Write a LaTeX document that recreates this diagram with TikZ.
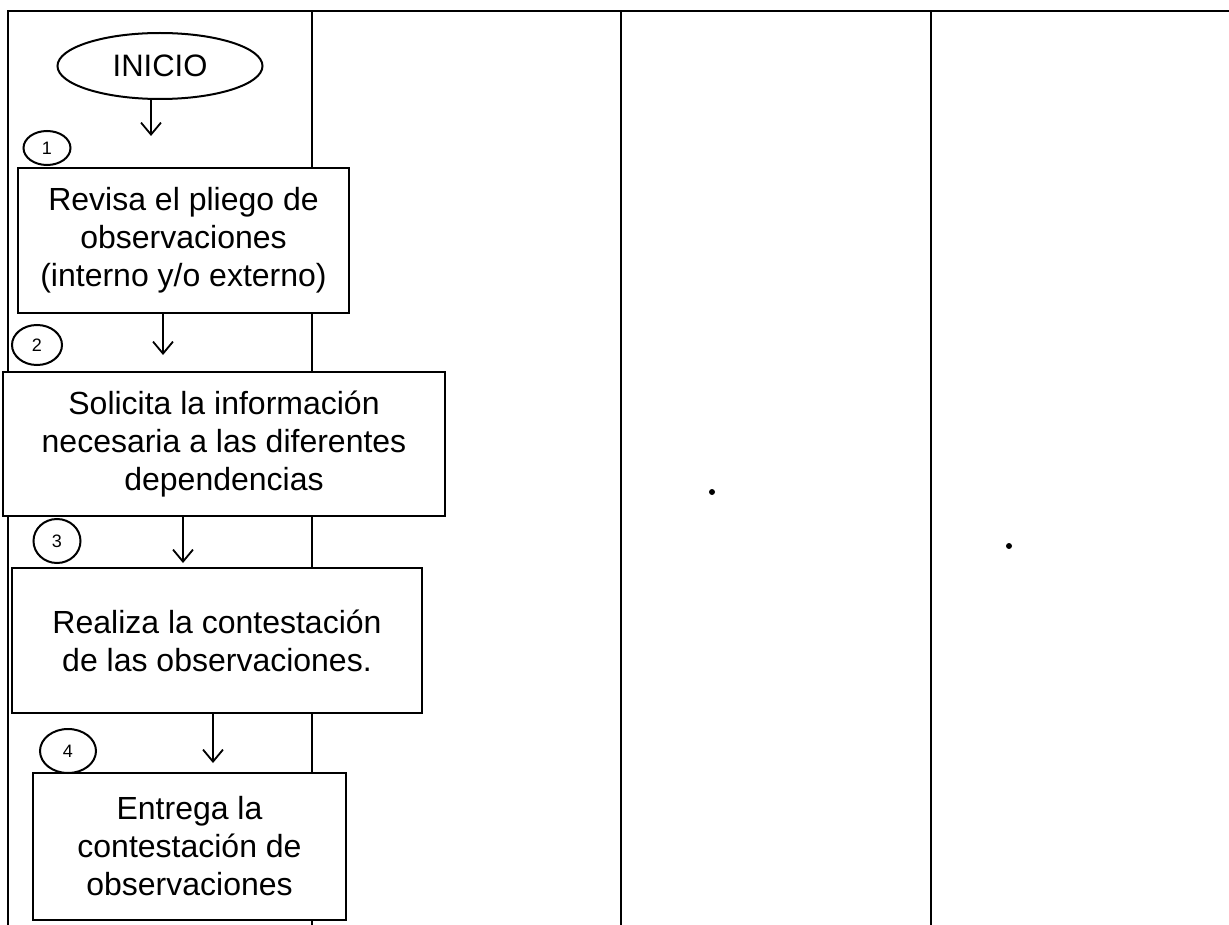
\documentclass[tikz,border=0pt]{standalone}
\usepackage{fontspec}
\setmainfont{Liberation Sans}
\usetikzlibrary{arrows.meta,shapes.geometric}

\begin{document}
\begin{tikzpicture}[x=1pt, y=-1pt,
  lane/.style={line width=1.6pt},
  stepbox/.style={draw, line width=2.6pt, fill=white, align=center, inner sep=0pt,
    font=\fontsize{32}{38}\selectfont},
  term/.style={draw, ellipse, line width=2pt, fill=white, inner sep=0pt,
    minimum width=205pt, minimum height=66pt, font=\fontsize{31}{36}\selectfont},
  num/.style={draw, ellipse, line width=2pt, fill=white, inner sep=0pt,
    font=\fontsize{18}{20}\selectfont},
  arr/.style={-{Straight Barb[length=12pt, width=20pt]}, line width=1.8pt},
  speck/.style={circle, fill=black, inner sep=0pt, minimum size=6pt}
]
\useasboundingbox (0,0) rectangle (1229,925);

% ── Swimlanes ────────────────────────────────────────────────────────────
\draw[lane] (8,925) -- (8,11) -- (1229,11);
\foreach \x in {312,621,931}
  \draw[lane] (\x,11) -- (\x,925);

% ── Start ────────────────────────────────────────────────────────────────
\node[term] (inicio) at (160,66) {INICIO};

% ── Steps ────────────────────────────────────────────────────────────────
\node[stepbox, minimum width=331pt, minimum height=145pt] (s1) at (183.5,240.5)
  {Revisa el pliego de\\ observaciones\\ (interno y/o externo)};
\node[stepbox, minimum width=442pt, minimum height=144pt] (s2) at (224,444)
  {Solicita la información\\ necesaria a las diferentes\\ dependencias};
\node[stepbox, minimum width=410pt, minimum height=145pt] (s3) at (217,640.5)
  {Realiza la contestación\\ de las observaciones.};
\node[stepbox, minimum width=313pt, minimum height=147pt] (s4) at (189.5,846.5)
  {Entrega la\\ contestación de\\ observaciones};

% ── Step numbers ─────────────────────────────────────────────────────────
\node[num, minimum width=47pt, minimum height=34pt] (n1) at (47,148) {1};
\node[num, minimum width=50pt, minimum height=40pt] (n2) at (37,345) {2};
\node[num, minimum width=47pt, minimum height=44pt] (n3) at (57,541) {3};
\node[num, minimum width=56pt, minimum height=44pt] (n4) at (68,751) {4};

% ── Flow ─────────────────────────────────────────────────────────────────
\coordinate (e1) at (151,136);
\coordinate (e2) at (163,355);
\coordinate (e3) at (183,563);
\coordinate (e4) at (213,763);
\draw[arr] (inicio.south -| e1) -- (e1);
\draw[arr] (s1.south -| e2) -- (e2);
\draw[arr] (s2.south -| e3) -- (e3);
\draw[arr] (s3.south -| e4) -- (e4);

% stray marks of the original sheet
\node[speck] (dotA) at (712,492) {};
\node[speck] (dotB) at (1009,546) {};

\end{tikzpicture}
\end{document}
